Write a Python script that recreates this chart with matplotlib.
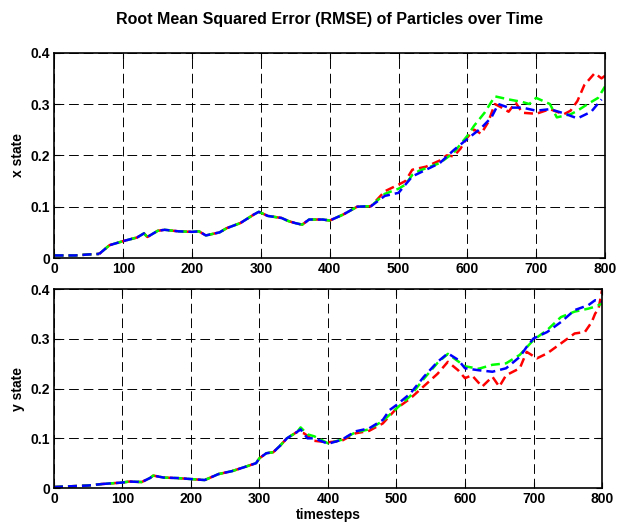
import matplotlib
matplotlib.use("Agg")
import matplotlib.pyplot as plt

plt.rcParams['font.family'] = ['Liberation Sans', 'DejaVu Sans']
plt.rcParams['font.weight'] = 'bold'

# ---- x state data ----
t_x_common = [0, 30, 50, 65, 80, 100, 120, 130, 135, 150, 160, 180, 200, 210, 220, 240, 250, 270,
              290, 297, 310, 330, 340, 350, 360, 370, 390, 400, 420, 440, 460]
x_common = [0.005, 0.005, 0.007, 0.008, 0.025, 0.033, 0.040, 0.048, 0.041, 0.053, 0.055, 0.052,
            0.051, 0.052, 0.044, 0.050, 0.058, 0.068, 0.085, 0.090, 0.082, 0.078, 0.072, 0.068,
            0.065, 0.075, 0.075, 0.073, 0.085, 0.100, 0.101]

t_x_red = [480, 500, 510, 520, 540, 560, 570, 580, 590, 600, 610, 620, 630, 640, 650, 660, 670,
           680, 700, 720, 740, 750, 760, 770, 785, 795, 800]
x_red = [0.130, 0.143, 0.150, 0.172, 0.178, 0.190, 0.200, 0.198, 0.213, 0.235, 0.250, 0.242, 0.264,
         0.300, 0.293, 0.285, 0.303, 0.283, 0.281, 0.290, 0.280, 0.287, 0.306, 0.337, 0.360, 0.350, 0.355]

t_x_green = [480, 500, 510, 520, 530, 560, 580, 600, 610, 625, 640, 660, 680, 690, 700, 720, 730,
             750, 760, 775, 790, 800]
x_green = [0.125, 0.135, 0.143, 0.162, 0.170, 0.185, 0.205, 0.238, 0.258, 0.283, 0.315, 0.309,
           0.304, 0.300, 0.312, 0.300, 0.274, 0.280, 0.287, 0.300, 0.312, 0.334]

t_x_blue = [480, 500, 510, 520, 540, 560, 580, 600, 620, 635, 645, 660, 680, 700, 720, 740, 760,
            780, 795]
x_blue = [0.121, 0.127, 0.143, 0.159, 0.172, 0.185, 0.210, 0.232, 0.253, 0.274, 0.300, 0.293,
          0.293, 0.287, 0.290, 0.282, 0.272, 0.285, 0.309]

# ---- y state data ----
t_y_common = [0, 50, 70, 90, 100, 110, 128, 140, 145, 160, 180, 200, 220, 240, 260, 280, 295, 300,
              310, 320, 330, 340, 355]
y_common = [0.002, 0.005, 0.008, 0.010, 0.011, 0.013, 0.012, 0.020, 0.025, 0.021, 0.020, 0.018,
            0.016, 0.028, 0.034, 0.043, 0.050, 0.060, 0.070, 0.072, 0.085, 0.100, 0.113]

t_y_red = [355, 365, 380, 400, 420, 440, 460, 480, 500, 520, 540, 560, 575, 590, 600, 610, 625,
           640, 650, 660, 680, 690, 705, 720, 740, 760, 775, 785, 790, 795, 800]
y_red = [0.113, 0.110, 0.095, 0.092, 0.095, 0.110, 0.115, 0.130, 0.160, 0.180, 0.205, 0.230, 0.254,
         0.237, 0.221, 0.227, 0.204, 0.224, 0.204, 0.227, 0.241, 0.274, 0.261, 0.271, 0.291, 0.311,
         0.314, 0.334, 0.351, 0.361, 0.398]

t_y_green = [355, 360, 370, 380, 400, 420, 440, 460, 480, 500, 520, 540, 560, 575, 590, 600, 620,
             640, 660, 680, 700, 720, 740, 760, 780, 790, 800]
y_green = [0.113, 0.122, 0.108, 0.104, 0.090, 0.097, 0.112, 0.118, 0.135, 0.160, 0.185, 0.220,
           0.252, 0.270, 0.255, 0.245, 0.240, 0.248, 0.251, 0.268, 0.298, 0.318, 0.344, 0.355,
           0.361, 0.365, 0.371]

t_y_blue = [355, 360, 370, 380, 400, 420, 440, 460, 480, 490, 500, 520, 540, 560, 575, 590, 600,
            620, 640, 660, 680, 690, 700, 720, 740, 760, 780, 790, 800]
y_blue = [0.113, 0.118, 0.100, 0.100, 0.089, 0.097, 0.114, 0.120, 0.137, 0.157, 0.167, 0.190,
          0.224, 0.254, 0.271, 0.258, 0.241, 0.237, 0.234, 0.241, 0.264, 0.284, 0.301, 0.314,
          0.334, 0.358, 0.368, 0.378, 0.375]

x_ticks = [0, 100, 200, 300, 400, 500, 600, 700, 800]
y_ticks = [0, 0.1, 0.2, 0.3, 0.4]
y_ticklabels = ['0', '0.1', '0.2', '0.3', '0.4']

split_t = 75  # before this, all three runs coincide exactly


def join(tc, vc, ts, vs):
    t = list(tc) + [x for x in ts if x > tc[-1]]
    v = list(vc) + [v for x, v in zip(ts, vs) if x > tc[-1]]
    return t, v


fig = plt.figure(figsize=(6.17, 5.27), dpi=100)
ax1 = fig.add_axes([0.0883, 0.5104, 0.8922, 0.3896])
ax2 = fig.add_axes([0.0875, 0.0740, 0.8882, 0.3771])

lw = 1.8
pattern = (3.6, 2.0)
offsets = [2.4, 4.2, 0.0]

for ax, tc, vc, series in [
    (ax1, t_x_common, x_common, [(t_x_red, x_red, '#ff0000'), (t_x_green, x_green, '#00ff00'),
                                 (t_x_blue, x_blue, '#0000ff')]),
    (ax2, t_y_common, y_common, [(t_y_red, y_red, '#ff0000'), (t_y_green, y_green, '#00ff00'),
                                 (t_y_blue, y_blue, '#0000ff')]),
]:
    for (ts, vs, c), off in zip(series, offsets):
        t, v = join(tc, vc, ts, vs)
        k = max(i for i, x in enumerate(t) if x <= split_t)
        ax.plot(t[:k + 1], v[:k + 1], color=c, lw=lw, linestyle=(0, pattern))
        ax.plot(t[k:], v[k:], color=c, lw=lw, linestyle=(off, pattern))
    ax.set_xlim(0, 800)
    ax.set_ylim(0, 0.4)
    ax.set_xticks(x_ticks)
    ax.set_yticks(y_ticks)
    ax.set_yticklabels(y_ticklabels)
    ax.grid(True, color='black', linestyle=(0, (10, 5)), linewidth=0.7)
    ax.tick_params(direction='in', top=True, right=True, length=4, width=0.8,
                   labelsize=10, pad=3)
    for lab in ax.get_xticklabels() + ax.get_yticklabels():
        lab.set_fontweight('bold')
    for s in ax.spines.values():
        s.set_linewidth(1.2)

ax1.set_ylabel('x state', fontsize=10, fontweight='bold', labelpad=4)
ax2.set_ylabel('y state', fontsize=10, fontweight='bold', labelpad=4)
ax2.set_xlabel('timesteps', fontsize=10, fontweight='bold', labelpad=1)
ax1.set_title('Root Mean Squared Error (RMSE) of Particles over Time', fontsize=11.5,
              fontweight='bold', pad=21)

fig.savefig('out.png', dpi=100, facecolor='white')
